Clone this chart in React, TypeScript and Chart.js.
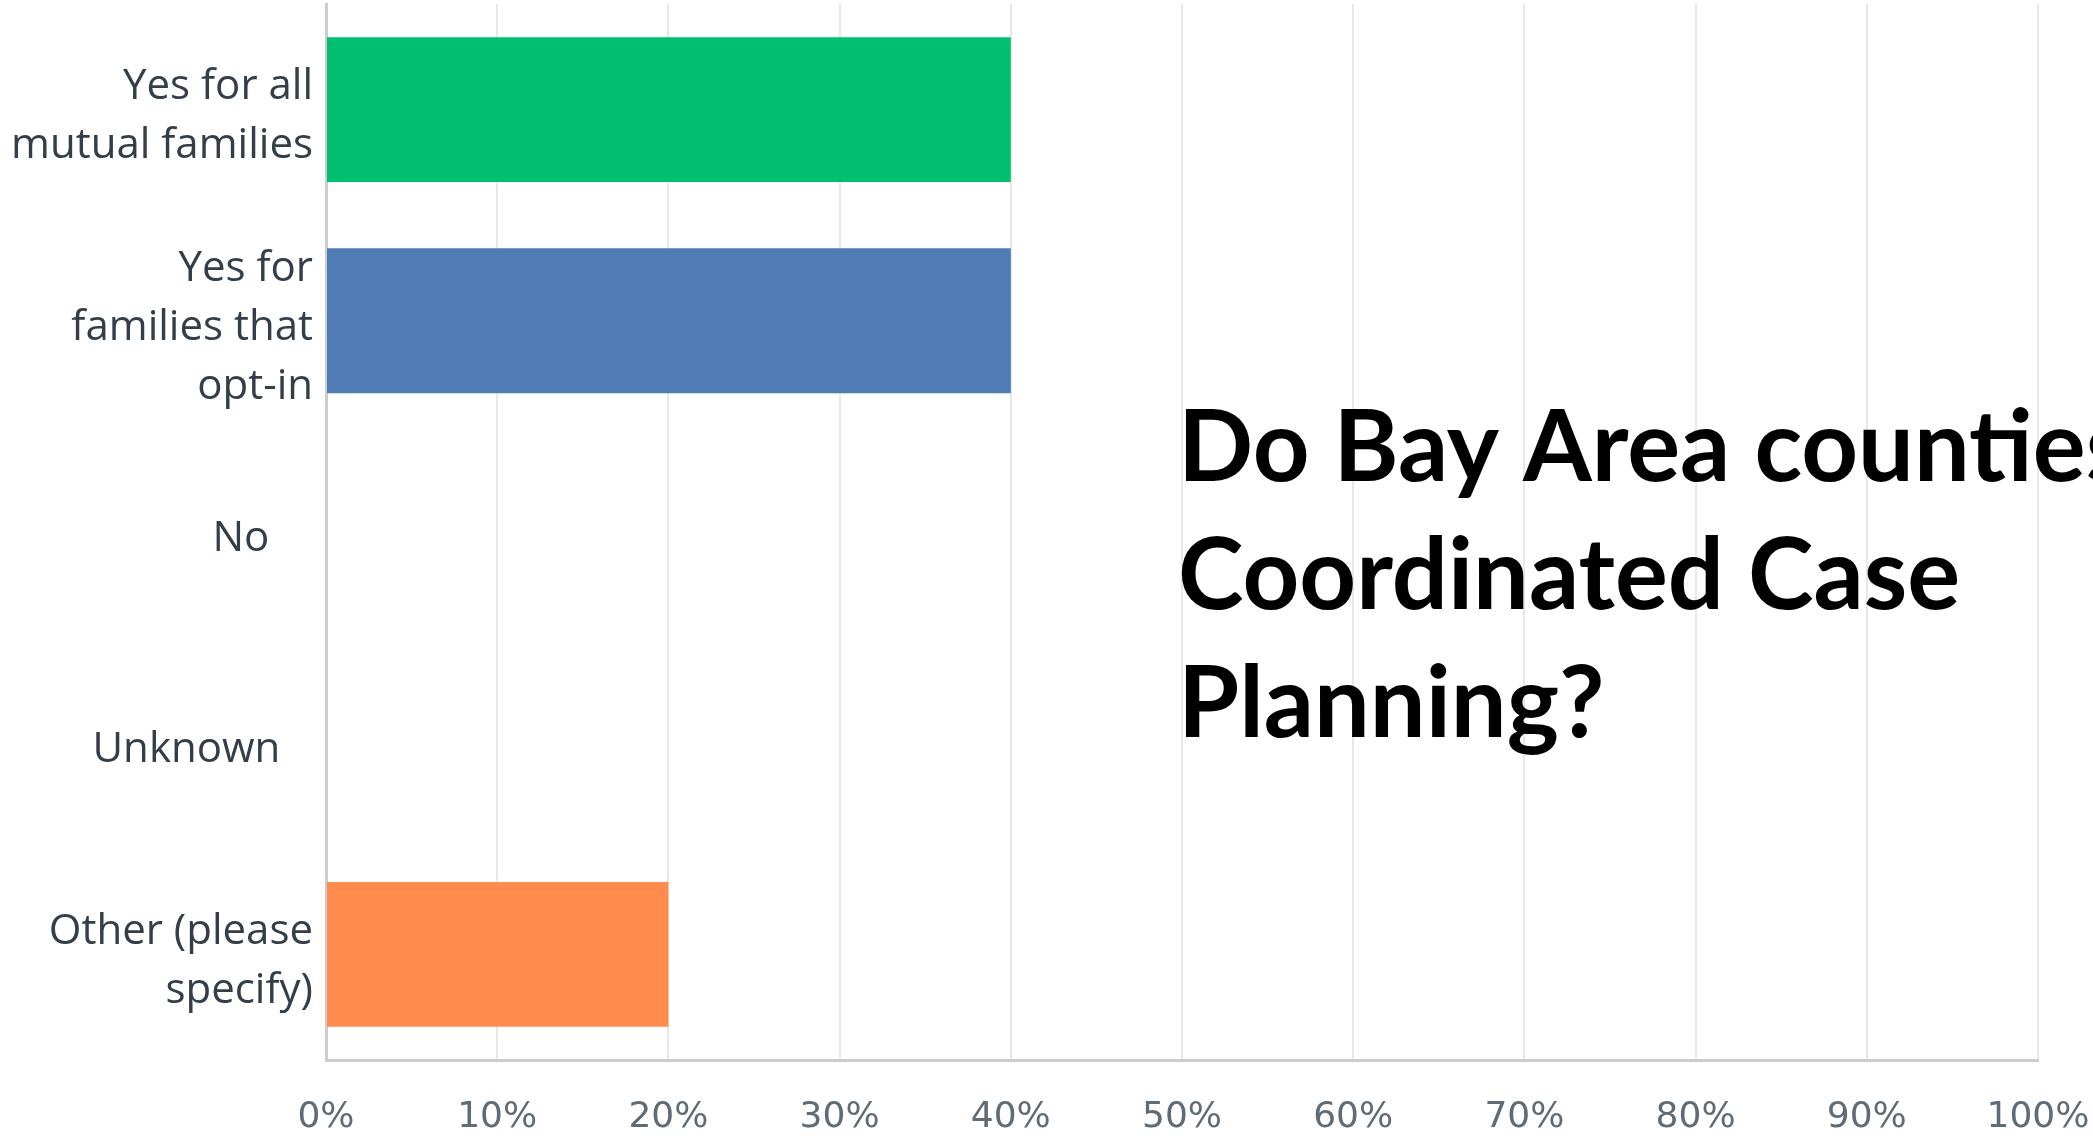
import React, { useEffect, useRef } from "react";
import { Chart, registerables } from "chart.js";

Chart.register(...registerables);

const categories: (string | string[])[] = [
  ["Yes for all", "mutual families"],
  ["Yes for", "families that", "opt-in"],
  "No    ",
  "Unknown   ",
  ["Other (please", "specify)"],
];
const values = [40, 40, 0, 0, 20];
const barColors = ["#00bf6f", "#507cb6", "#f9be00", "#6bc8cd", "#ff8b4f"];
const xTicks = [0, 10, 20, 30, 40, 50, 60, 70, 80, 90, 100];
const titleLines = ["Do Bay Area counties use", "Coordinated Case", "Planning?"];

const W = 2093;
const H = 1138;

const titlePlugin = {
  id: "overlayTitle",
  afterDraw(chart: any) {
    const ctx = chart.ctx;
    const x = chart.scales.x;
    const left = x.getPixelForValue(50) - 4;
    ctx.save();
    ctx.fillStyle = "#000000";
    ctx.font = "bold 99px Lato";
    ctx.textAlign = "left";
    ctx.textBaseline = "alphabetic";
    const base = chart.chartArea.top + 477;
    titleLines.forEach((t, i) => {
      ctx.fillText(t, left, base + i * 128);
    });
    ctx.restore();
  },
};

export default function App() {
  const ref = useRef<HTMLCanvasElement | null>(null);
  useEffect(() => {
    if (!ref.current) return;
    const chart = new Chart(ref.current, {
      type: "bar",
      data: {
        labels: categories,
        datasets: [
          {
            data: values,
            backgroundColor: barColors,
            borderWidth: 0,
            categoryPercentage: 1,
            barPercentage: 0.686,
          },
        ],
      },
      options: {
        indexAxis: "y",
        animation: false,
        responsive: false,
        devicePixelRatio: 1,
        layout: { padding: { top: 4, right: 55, left: 0, bottom: 0 } },
        plugins: {
          legend: { display: false },
          tooltip: { enabled: false },
          title: { display: false },
        },
        scales: {
          x: {
            min: 0,
            max: 100,
            afterBuildTicks: (scale: any) => {
              scale.ticks = xTicks.map((v) => ({ value: v }));
            },
            afterFit: (scale: any) => {
              scale.height = 78;
              scale.paddingLeft = 0;
              scale.paddingRight = 0;
            },
            grid: {
              color: "#e8e8e8",
              lineWidth: 2,
              drawTicks: false,
            },
            border: { color: "#cccccc", width: 3 },
            ticks: {
              padding: 36,
              color: "#5f6b75",
              font: { family: "'DejaVu Sans'", size: 36 },
              maxRotation: 0,
              autoSkip: false,
              callback: (v: any) => `${v}%`,
            },
          },
          y: {
            afterFit: (scale: any) => {
              scale.width = 326;
              scale.paddingTop = 0;
              scale.paddingBottom = 0;
            },
            grid: { display: false, drawTicks: false },
            border: { color: "#cccccc", width: 3 },
            ticks: {
              padding: 13,
              labelOffset: 7,
              color: "#333e48",
              font: { family: "'Open Sans'", size: 42, lineHeight: 1.4 },
              autoSkip: false,
            },
          },
        },
      },
      plugins: [titlePlugin],
    });
    return () => chart.destroy();
  }, []);
  return (
    <div style={{ position: "fixed", left: 0, top: 0, width: W, height: H, background: "#ffffff", overflow: "hidden" }}>
      <canvas ref={ref} width={W} height={H} style={{ width: W, height: H, display: "block" }} />
    </div>
  );
}
